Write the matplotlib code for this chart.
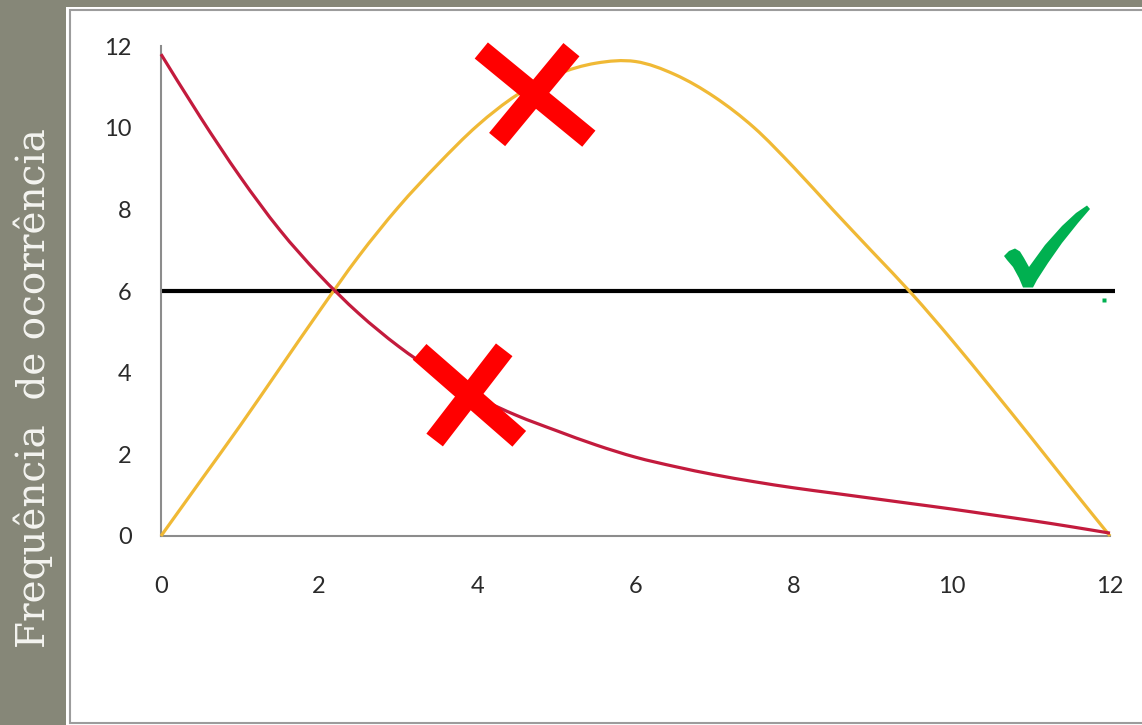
import matplotlib
matplotlib.use("Agg")
import matplotlib.pyplot as plt
from matplotlib.patches import Rectangle, Polygon, PathPatch
from matplotlib.path import Path

# valores (passo 0.5)
x_vals = [0, 0.5, 1, 1.5, 2, 2.5, 3, 3.5, 4, 4.5, 5, 5.5, 6,
          6.5, 7, 7.5, 8, 8.5, 9, 9.5, 10, 10.5, 11, 11.5, 12]
red_vals = [11.8, 10.25, 8.8, 7.5, 6.4, 5.45, 4.65, 3.98, 3.4, 2.95, 2.58, 2.23, 1.93,
            1.7, 1.5, 1.33, 1.18, 1.05, 0.92, 0.79, 0.66, 0.52, 0.38, 0.23, 0.07]
yellow_vals = [0, 1.35, 2.7, 4.1, 5.5, 6.85, 8.05, 9.1, 10.05, 10.8, 11.3, 11.58, 11.62,
               11.3, 10.75, 10.0, 9.03, 7.98, 6.95, 5.92, 4.8, 3.62, 2.42, 1.2, 0]
level_x = [0, 12.06]
level_y = [6, 6]

x_ticks = [0, 2, 4, 6, 8, 10, 12]
y_ticks = [0, 2, 4, 6, 8, 10, 12]

# marcas "X" (dois traços cada)
cross_arms = [
    ([4.05, 5.41], [11.89, 9.73]),
    ([4.25, 5.19], [9.71, 11.91]),
    ([3.27, 4.53], [4.51, 2.38]),
    ([3.46, 4.34], [2.35, 4.56]),
]
# contorno do visto verde, em pixels da imagem (origem no topo)
check_px = [(1004, 256), (1009, 251), (1015, 248.5), (1020, 251.5), (1024, 258),
            (1029, 267), (1045, 245), (1062, 226), (1076, 213), (1087, 205.5),
            (1090, 209), (1078, 223), (1062, 243), (1048, 263), (1037, 280),
            (1033, 287.5), (1023, 287.5), (1019, 278), (1013, 267), (1007, 260)]
dot_pos = (11.93, 5.78)

ylabel_text = "Frequência  de ocorrência"

W, H = 1142, 725


def smooth_path(xs, ys):
    # linha suavizada (estilo Excel): Catmull-Rom convertido em Bezier
    pts = list(zip(xs, ys))
    n = len(pts)
    verts = [pts[0]]
    codes = [Path.MOVETO]
    for i in range(n - 1):
        p0 = pts[max(i - 1, 0)]
        p1 = pts[i]
        p2 = pts[i + 1]
        p3 = pts[min(i + 2, n - 1)]
        c1 = (p1[0] + (p2[0] - p0[0]) / 6, p1[1] + (p2[1] - p0[1]) / 6)
        c2 = (p2[0] - (p3[0] - p1[0]) / 6, p2[1] - (p3[1] - p1[1]) / 6)
        verts += [c1, c2, p2]
        codes += [Path.CURVE4] * 3
    return Path(verts, codes)


fig = plt.figure(figsize=(W / 100, H / 100), dpi=100, facecolor="#868778")

# painel branco com borda cinza
fig.patches.append(Rectangle((66 / W, 0), 1, (H - 7) / H, transform=fig.transFigure,
                             fc="white", ec="none", zorder=-2))
fig.patches.append(Rectangle((69.5 / W, 2 / H), 1, (H - 11.5) / H, transform=fig.transFigure,
                             fc="white", ec="#9c9c9c", lw=1.5, zorder=-1))

ax = fig.add_axes([161 / W, (H - 536) / H, (1110 - 161) / W, (536 - 46) / H])
ax.set_zorder(1)
ax.set_facecolor("none")

ax.add_patch(PathPatch(smooth_path(x_vals, yellow_vals), fc="none", ec="#f0b935",
                       lw=2.3, zorder=3, clip_on=False))
ax.add_patch(PathPatch(smooth_path(x_vals, red_vals), fc="none", ec="#c31b3d",
                       lw=2.3, zorder=4, clip_on=False))
ax.plot(level_x, level_y, color="black", lw=3, zorder=2, clip_on=False,
        solid_capstyle="butt")

for xs, ys in cross_arms:
    ax.plot(xs, ys, color="#ff0000", lw=15, solid_capstyle="butt", zorder=6, clip_on=False)

fig.patches.append(Polygon([(px / W, (H - py) / H) for px, py in check_px], closed=True,
                           transform=fig.transFigure, fc="#00b050", ec="none", zorder=5))
ax.plot([dot_pos[0]], [dot_pos[1]], marker="s", ms=3.5, color="#00b050",
        mec="none", clip_on=False, zorder=7)

ax.set_xlim(0, 12)
ax.set_ylim(0, 12)
ax.set_xticks(x_ticks)
ax.set_yticks(y_ticks)
ax.tick_params(length=0, labelsize=17, labelcolor="#2a2a2a")
ax.tick_params(axis="x", pad=29)
ax.tick_params(axis="y", pad=21)
for lab in ax.get_xticklabels() + ax.get_yticklabels():
    lab.set_family("Lato")

for side in ["top", "right"]:
    ax.spines[side].set_visible(False)
for side in ["left", "bottom"]:
    ax.spines[side].set_color("#8c8c8c")
    ax.spines[side].set_linewidth(1.5)

fig.text(33 / W, (H - 388) / H, ylabel_text, rotation=90, color="#f4f4f0",
         fontsize=28, family="DejaVu Serif", ha="center", va="center")

fig.savefig("out.png", dpi=100, facecolor=fig.get_facecolor())
